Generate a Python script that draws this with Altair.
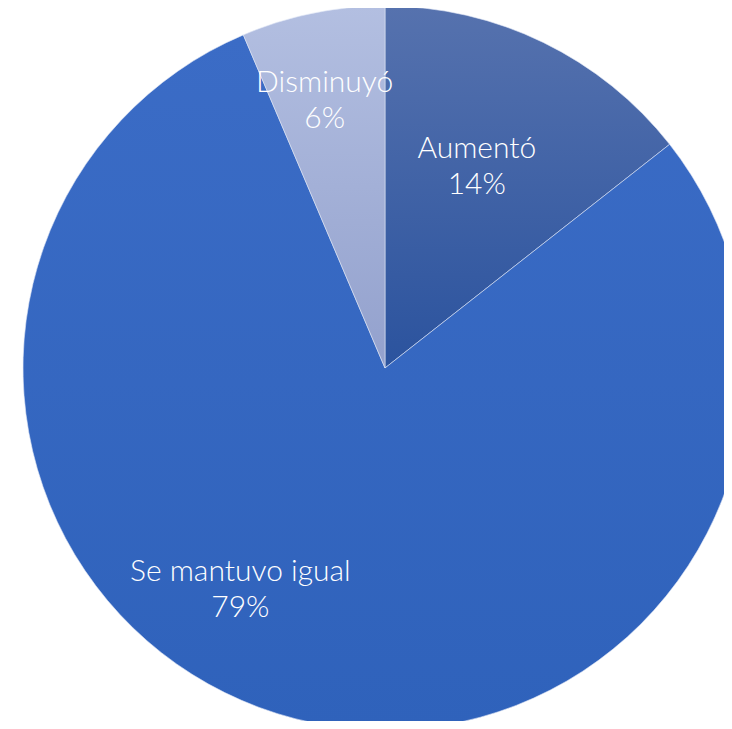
import altair as alt
import pandas as pd

categories = ["Aumentó", "Se mantuvo igual", "Disminuyó"]
values = [14.4, 79.2, 6.4]

df = pd.DataFrame({"cat": categories, "val": values, "order": [0, 1, 2]})

CX, CY, R = 377, 360, 362
TAU = 6.283185307179586

grads = {
    "Aumentó": [("#5672ae", 0.0), ("#2b539e", 1.0)],
    "Se mantuvo igual": [("#3b6cc6", 0.0), ("#2f62bb", 1.0)],
    "Disminuyó": [("#b3bfe1", 0.0), ("#93a1cd", 1.0)],
}

base = alt.Chart(df).transform_window(
    end="sum(val)", sort=[alt.SortField("order")], frame=[None, 0]
).transform_calculate(
    start="datum.end - datum.val",
    mid="datum.end - datum.val/2",
    label="datum.cat + '\\n' + round(datum.val) + '%'",
)

theta_scale = alt.Scale(domain=[0, 100], range=[0, TAU])

layers = []
for c in categories:
    stops = [alt.GradientStop(color=col, offset=off) for col, off in grads[c]]
    layers.append(
        base.transform_filter(alt.datum.cat == c).mark_arc(
            radius=R,
            color=alt.Gradient(gradient="linear", x1=0, y1=0, x2=0, y2=1, stops=stops),
            stroke="#dfe6f5",
            strokeWidth=0.6,
        ).encode(
            theta=alt.Theta("start:Q", scale=theta_scale),
            theta2="end:Q",
            x=alt.value(CX),
            y=alt.value(CY),
        )
    )

label_style = {
    "Aumentó": dict(radius=226, dx=-7, dy=-16),
    "Se mantuvo igual": dict(radius=260, dx=-80, dy=-48),
    "Disminuyó": dict(radius=277, dx=-5, dy=-14),
}
for c in categories:
    st = label_style[c]
    layers.append(
        base.transform_filter(alt.datum.cat == c).mark_text(
            radius=st["radius"], dx=st["dx"], dy=st["dy"],
            font="Lato", fontWeight=300, fontSize=30, color="white",
            lineBreak="\n", lineHeight=36, align="center", baseline="middle",
        ).encode(
            theta=alt.Theta("mid:Q", scale=theta_scale),
            text="label:N",
            x=alt.value(CX),
            y=alt.value(CY),
        )
    )

chart = alt.layer(*layers).properties(
    width=716, height=713, autosize=alt.AutoSizeParams(type="none"), padding=0
).configure_view(stroke=None)

chart.save("out.html", embed_options={"renderer": "svg", "actions": False})
